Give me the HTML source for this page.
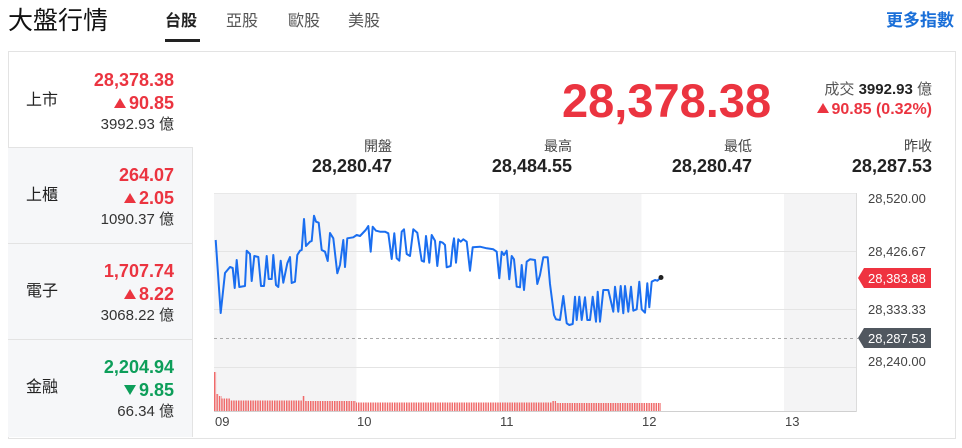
<!DOCTYPE html>
<html><head><meta charset="utf-8">
<style>
*{box-sizing:border-box;margin:0;padding:0}
body{width:962px;height:448px;overflow:hidden;background:#fff;font-family:"Liberation Sans","Noto Sans CJK TC",sans-serif;color:#222;position:relative}
.a{position:absolute;line-height:1;white-space:nowrap}
.r{text-align:right}
.red{color:#eb3440}
.grn{color:#0d9e5a}
.b{font-weight:bold}
.item{position:absolute;left:8px;width:185px;border-top:1px solid #e3e3e3}
.gray{background:#f6f7f9;border-right:1px solid #e3e3e3}
.up{display:inline-block;width:0;height:0;border-left:6px solid transparent;border-right:6px solid transparent;border-bottom:10px solid #eb3440;margin-right:3px;vertical-align:1px}
.dn{display:inline-block;width:0;height:0;border-left:6px solid transparent;border-right:6px solid transparent;border-top:10px solid #0d9e5a;margin-right:3px;vertical-align:1px}
</style></head><body>

<div class="a" style="left:8px;top:9px;font-size:25px;color:#111">大盤行情</div>
<div class="a" style="left:165px;top:14px;font-size:16px;color:#222;font-weight:bold">台股</div>
<div style="position:absolute;left:165px;top:39px;width:35px;height:3px;background:#222"></div>
<div class="a" style="left:226px;top:14px;font-size:16px;color:#555">亞股</div>
<div class="a" style="left:288px;top:14px;font-size:16px;color:#555">歐股</div>
<div class="a" style="left:348px;top:14px;font-size:16px;color:#555">美股</div>
<div class="a b" style="left:886px;top:12px;font-size:17px;color:#1a6fd8">更多指數</div>

<!-- card -->
<div style="position:absolute;left:8px;top:51px;width:948px;height:388px;border:1px solid #e3e3e3"></div>

<!-- left column -->
<div class="item gray" style="top:147px;height:96px"></div>
<div class="item gray" style="top:243px;height:96px"></div>
<div class="item gray" style="top:339px;height:98px"></div>

<!-- 上市 -->
<div class="a" style="left:26px;top:93px;font-size:16px">上市</div>
<div class="a r red b" style="right:788px;top:71px;font-size:18px">28,378.38</div>
<div class="a r red b" style="right:788px;top:94px;font-size:18px"><span class="up"></span>90.85</div>
<div class="a r" style="right:788px;top:117px;font-size:15px;color:#333">3992.93 億</div>
<!-- 上櫃 -->
<div class="a" style="left:26px;top:188px;font-size:16px">上櫃</div>
<div class="a r red b" style="right:788px;top:166px;font-size:18px">264.07</div>
<div class="a r red b" style="right:788px;top:189px;font-size:18px"><span class="up"></span>2.05</div>
<div class="a r" style="right:788px;top:212px;font-size:15px;color:#333">1090.37 億</div>
<!-- 電子 -->
<div class="a" style="left:26px;top:284px;font-size:16px">電子</div>
<div class="a r red b" style="right:788px;top:262px;font-size:18px">1,707.74</div>
<div class="a r red b" style="right:788px;top:285px;font-size:18px"><span class="up"></span>8.22</div>
<div class="a r" style="right:788px;top:308px;font-size:15px;color:#333">3068.22 億</div>
<!-- 金融 -->
<div class="a" style="left:26px;top:380px;font-size:16px">金融</div>
<div class="a r grn b" style="right:788px;top:358px;font-size:18px">2,204.94</div>
<div class="a r grn b" style="right:788px;top:381px;font-size:18px"><span class="dn"></span>9.85</div>
<div class="a r" style="right:788px;top:404px;font-size:15px;color:#333">66.34 億</div>

<!-- big quote -->
<div class="a red b" style="left:562px;top:77px;font-size:47px">28,378.38</div>
<div class="a r" style="right:30px;top:82px;font-size:15px;color:#555">成交 <b style="color:#222">3992.93</b> 億</div>
<div class="a r red b" style="right:30px;top:102px;font-size:16px"><span class="up" style="margin-right:2px"></span>90.85 (0.32%)</div>

<div class="a r" style="right:570px;top:139px;font-size:14px;color:#444">開盤</div>
<div class="a r b" style="right:570px;top:157px;font-size:18px">28,280.47</div>
<div class="a r" style="right:390px;top:139px;font-size:14px;color:#444">最高</div>
<div class="a r b" style="right:390px;top:157px;font-size:18px">28,484.55</div>
<div class="a r" style="right:210px;top:139px;font-size:14px;color:#444">最低</div>
<div class="a r b" style="right:210px;top:157px;font-size:18px">28,280.47</div>
<div class="a r" style="right:30px;top:139px;font-size:14px;color:#444">昨收</div>
<div class="a r b" style="right:30px;top:157px;font-size:18px">28,287.53</div>

<svg style="position:absolute;left:0;top:0" width="962" height="448" xmlns="http://www.w3.org/2000/svg">
<defs>
<pattern id="vb" patternUnits="userSpaceOnUse" x="214" y="0" width="2.4" height="10">
<rect x="0" y="0" width="1.5" height="10" fill="#f06a6a"/>
</pattern>
</defs>
<rect x="214" y="193" width="142.5" height="218" fill="#f4f4f5"/>
<rect x="499" y="193" width="142.5" height="218" fill="#f4f4f5"/>
<rect x="784" y="193" width="72" height="218" fill="#f4f4f5"/>
<line x1="214" y1="193.5" x2="856" y2="193.5" stroke="#e8e8e8"/>
<line x1="214" y1="251.5" x2="856" y2="251.5" stroke="#e4e4e4"/>
<line x1="214" y1="309.5" x2="856" y2="309.5" stroke="#e4e4e4"/>
<line x1="214" y1="367.5" x2="856" y2="367.5" stroke="#e4e4e4"/>
<line x1="214" y1="338.5" x2="858" y2="338.5" stroke="#aaa" stroke-dasharray="3,3"/>
<line x1="214" y1="411.5" x2="856" y2="411.5" stroke="#d0d0d0"/>
<line x1="856.5" y1="193" x2="856.5" y2="412" stroke="#dcdcdc"/>
<polygon fill="url(#vb)" points="214,411 214,372 216.4,372 216.4,394 218.8,394 218.8,396 221.6,396 221.6,398.5 230,398.5 230,400.5 302,400.5 302,396 305,396 305,401 356,401 356,402.5 552,402.5 552,401 556,401 556,403 661,403 661,411"/>
<polyline fill="none" stroke="#1a6ef0" stroke-width="2" stroke-linejoin="round" points="215.7,240 220.7,313 225,273 230,267 232.7,268 234.7,288 236.7,260 239.3,287 245,286 246.7,250.7 250,254 251.7,281 254.3,256 258.3,257 261,286 264,286 266.7,256 268.7,279 271.7,279 273.3,255 276,285 278.3,287 280.7,260.7 283.3,282.7 287.3,263.3 290,257 291.7,283 295,281.7 297.3,255 300,250.7 301.7,250 304,219 306,246 310,241.7 311.7,241 314,215.7 316,221.7 318.7,222.7 321.7,250 325,251.7 327.7,261 330,233 333.3,238.3 337.3,273.3 340,265 343.3,240 345,267 347.3,238.3 353.3,237.3 356.7,235 360,236 365.7,230 368.3,226 370.7,251.7 372.7,226.7 376,230.7 380,231.7 385,231.7 388.3,233.3 391.7,259 394.3,233.3 396.7,258.3 399.3,260.7 401.7,231.7 404,229.3 406.7,254 410,256 413.3,229.3 417.3,232.7 421.7,260.7 424,261.7 426,236 429.3,262.7 431.7,235 435,240.7 437.3,266 440,241.7 442.7,242.7 445,245 446.7,267.3 450.7,266 452.7,246 454,238.3 456,262.7 458.3,239.3 460.7,241.7 463.3,239.3 466.7,241.7 470,270.7 472.7,247.3 480,246.7 486.7,248.3 493.3,249.3 496.7,251.7 499.3,278.3 501.7,251.7 504,255 506.7,250.7 509.3,279.3 511.7,256 514,259.3 516.7,286.7 520,287.3 521.7,265 524,290 526.7,261.7 530,259.3 535,260 537.3,284 540,275 543.3,257.3 547.7,257.3 550,284 554,315 556,319.3 560,320 563.3,296 566.7,323.3 569.3,325 572.7,324 575,296.7 576.7,320 579.3,296.7 581.7,320 585,297.3 587.3,320 590,320 592.7,296.7 596,321.7 597.7,291.7 600,321.7 603.3,290 608.3,290 613.3,311.7 615,286.7 618.3,311.7 620.7,286 623.3,313.3 625,286 628.3,311.7 631,286.7 633.3,310.7 636.7,309.3 639.3,281.7 641.7,309.3 645,312.7 647.3,283.3 649.3,307.3 651.7,281.7 655,280 657.3,280.7 660.7,277.7"/>
<circle cx="661" cy="277.5" r="2.5" fill="#222"/>
<g font-family="Liberation Sans, sans-serif" font-size="13" fill="#444">
<text x="868" y="203">28,520.00</text>
<text x="868" y="256">28,426.67</text>
<text x="868" y="314">28,333.33</text>
<text x="868" y="366">28,240.00</text>
<text x="215" y="426">09</text>
<text x="357" y="426">10</text>
<text x="500" y="426">11</text>
<text x="642" y="426">12</text>
<text x="785" y="426">13</text>
</g>
<polygon points="858,278 864,268 931,268 931,288 864,288" fill="#ef3340"/>
<polygon points="858,338 864,328 931,328 931,348 864,348" fill="#50575f"/>
<g font-family="Liberation Sans, sans-serif" font-size="13" fill="#fff">
<text x="868" y="283">28,383.88</text>
<text x="868" y="343">28,287.53</text>
</g>
</svg>
</body></html>
